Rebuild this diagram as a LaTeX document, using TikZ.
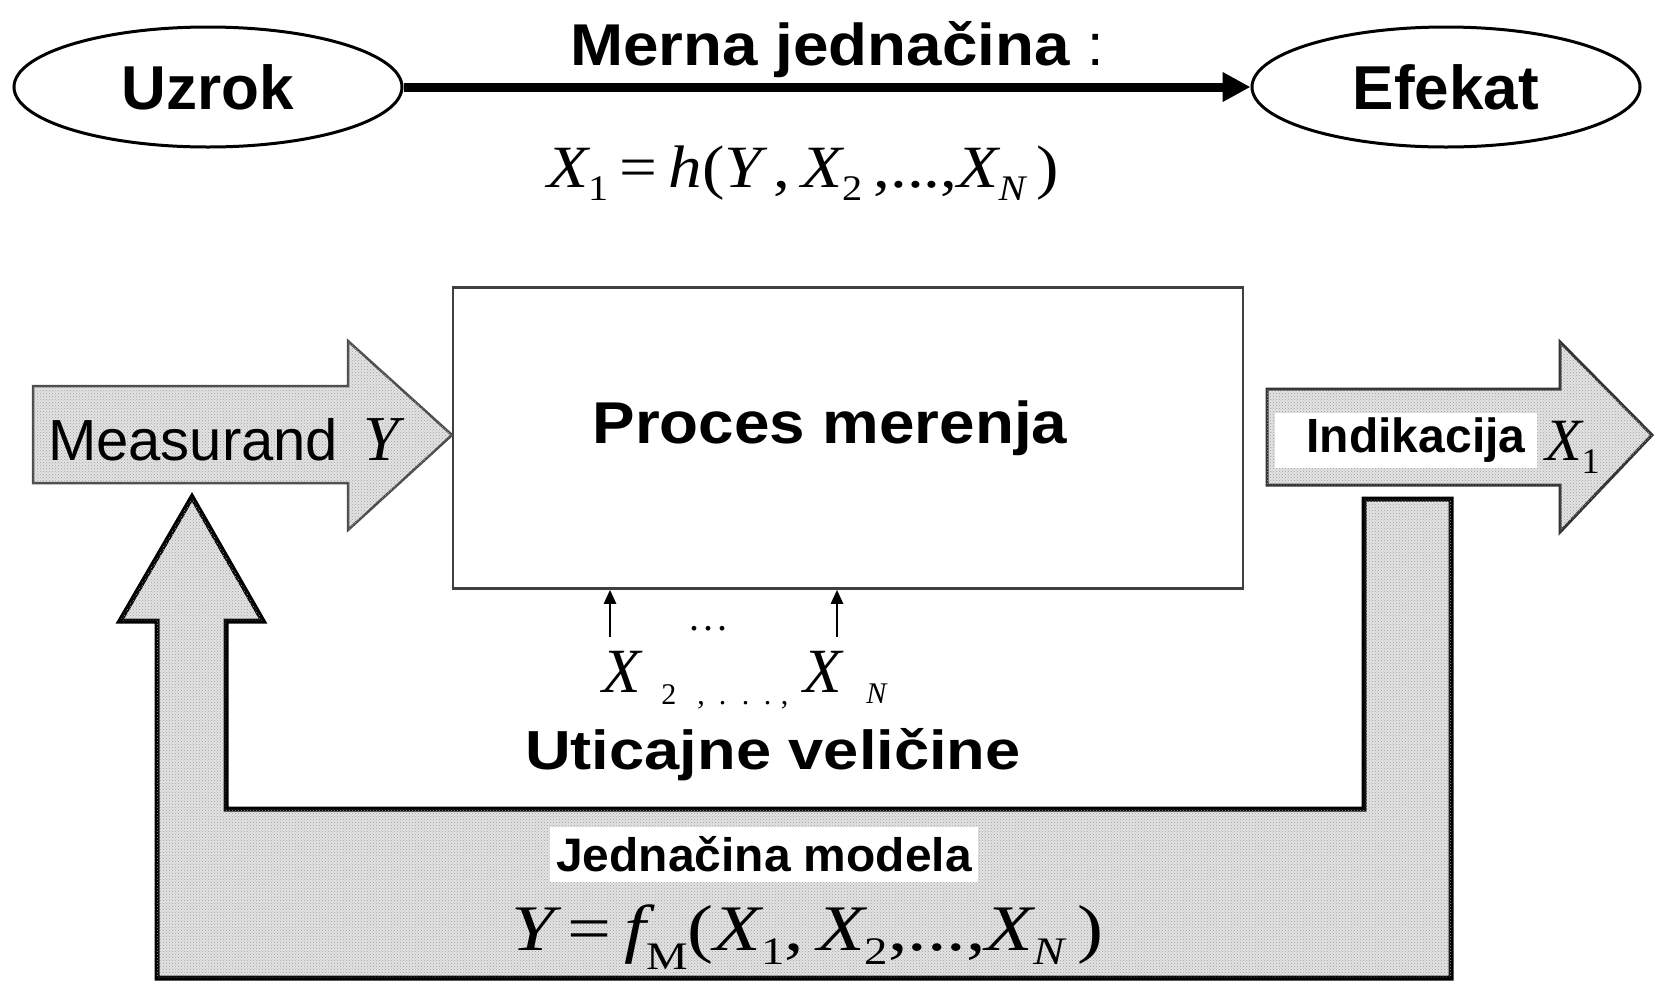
\documentclass[tikz,border=0pt]{standalone}
\usepackage{fontspec}
\setmainfont{Liberation Sans}
\newfontfamily\tms{Liberation Serif}
\usepackage{graphicx}
\usetikzlibrary{arrows.meta,shapes.geometric,patterns}
\newcommand\fs[1]{\fontsize{#1}{#1}\selectfont}
\newcommand\lo[1]{\raisebox{-0.22em}{\scalebox{0.6}{#1}}}
\newcommand\vi[1]{{\tms\itshape #1}}
\begin{document}
\begin{tikzpicture}[x=1pt,y=-1pt,
  txt/.style={inner sep=0pt, outer sep=0pt, anchor=base},
  ell/.style={draw=black, line width=3pt, ellipse, minimum width=388pt,
    minimum height=120pt, inner sep=0pt, font=\fs{62}\bfseries},
  shadefill/.style={fill=gray!22, postaction={pattern=crosshatch dots, pattern color=gray!75}},
  whitebox/.style={fill=white, inner sep=0pt, font=\fs{47}\bfseries},
  bigarrow/.style={line width=9pt, -{Triangle[length=28pt,width=28pt]}},
  smallarrow/.style={line width=2.5pt, -{Triangle[length=14pt,width=12pt]}}
]
\useasboundingbox (0,0) rectangle (1656,986);

% top row
\node[ell] (uzrok) at (208,87) {Uzrok};
\node[ell] (efekat) at (1446,87) {Efekat};
\draw[bigarrow] (uzrok.east) -- (efekat.west);
\node[txt] (merna) at (820,65) {\scalebox{1.08}[1]{\fs{59}\bfseries Merna jedna\v{c}ina}};
\node[txt] (colon) at (1096,65) {\fs{59}:};
\node[txt, anchor=base west] (hform) at (547,187) {\scalebox{1.12}[1]{\fs{60}\tms\vi{X}\lo{1}\,=\,\vi{h}(\vi{Y}\,,\,\vi{X}\lo{2}\,,...,\vi{X}\lo{\vi{N}}\,)}};

% process box
\node[draw=black!75, line width=2.5pt, minimum width=790pt, minimum height=301pt, inner sep=0pt] (proces) at (848,438) {};
\node[txt] (procestxt) at (830,443) {\scalebox{1.08}[1]{\fs{59}\bfseries Proces merenja}};

% feedback U arrow
\draw[shadefill, draw=black, line width=5pt, line join=miter]
  (1364,499) -- (1451,499) -- (1451,978) -- (157,978) -- (157,621) -- (120,621)
  -- (192,497) -- (263,621) -- (226,621) -- (226,809) -- (1364,809) -- cycle;

% Measurand arrow
\draw[shadefill, draw=black!70, line width=2.5pt, line join=miter]
  (33,386) -- (348,386) -- (348,341) -- (452,435) -- (348,530) -- (348,483) -- (33,483) -- cycle;
\node[txt, anchor=base west] (meas) at (48,460) {\fs{58}Measurand};
\node[txt, anchor=base west] (measY) at (363,460) {\fs{64}\vi{Y}};

% Indikacija arrow
\draw[shadefill, draw=black!80, line width=3pt, line join=miter]
  (1267,389) -- (1560,389) -- (1560,342) -- (1652,435) -- (1560,532) -- (1560,485) -- (1267,485) -- cycle;
\node[whitebox, minimum width=262pt, minimum height=55pt] (indik) at (1406,440) {\hspace{20pt}\fs{48}Indikacija};
\node[txt, anchor=base west] (indX) at (1545,460) {\fs{60}\tms\vi{X}\lo{1}};

% influence quantities
\coordinate (in2) at (610,637);
\coordinate (inN) at (837,637);
\draw[smallarrow] (in2) -- (in2 |- proces.south);
\draw[smallarrow] (inN) -- (inN |- proces.south);
\node[txt] (dots) at (708,630) {\fs{40}\tms .\hspace{4pt}.\hspace{4pt}.};
\node[txt, anchor=base west] (xs) at (602,692) {\fs{63}\tms\vi{X}\hspace{21pt}\raisebox{-12pt}{\fs{30}2\hspace{21pt},\hspace{14pt}.\hspace{15.5pt}.\hspace{14.5pt}.\hspace{9.5pt},}\hspace{15.5pt}\vi{X}\hspace{24pt}\raisebox{-11pt}{\fs{30}\itshape N}};
\node[txt] (utic) at (773,769) {\scalebox{1.15}[1]{\fs{55}\bfseries Uticajne veli\v{c}ine}};

% model equation
\node[whitebox, minimum width=428pt, minimum height=55pt] (jedn) at (764,854) {\scalebox{1.02}[1]{Jedna\v{c}ina modela}};
\node[txt, anchor=base west] (fform) at (511,950) {\scalebox{1.2}[1]{\fs{65}\tms\vi{Y}\,=\,\vi{f}\raisebox{-0.3em}{\scalebox{0.6}{M}}(\vi{X}\lo{1},\,\vi{X}\lo{2},...,\vi{X}\lo{\vi{N}}\,)}};
\end{tikzpicture}
\end{document}
